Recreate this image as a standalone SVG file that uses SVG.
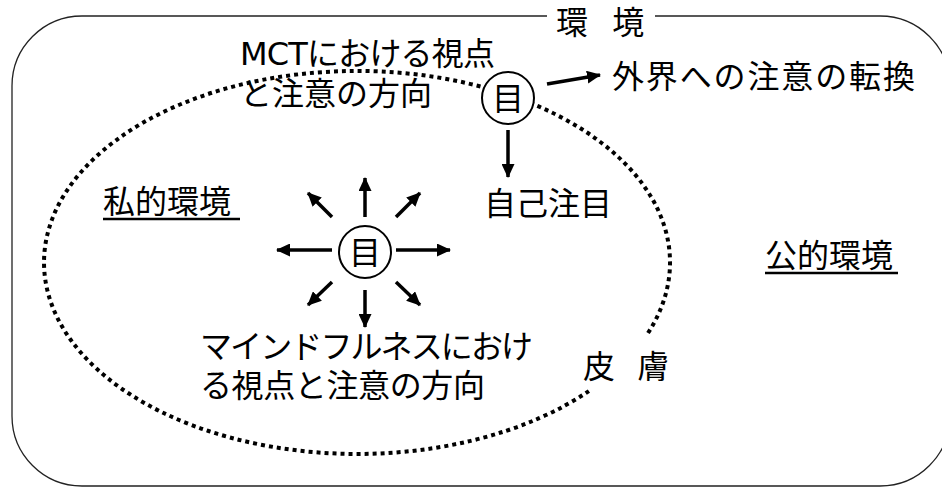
<svg xmlns="http://www.w3.org/2000/svg" width="942" height="487" viewBox="0 0 942 487">
<style>
.t{font-family:"DejaVu Sans","Noto Sans CJK JP",sans-serif;font-size:32px;fill:#000}
.eye{font-family:"Noto Sans CJK JP",sans-serif;font-size:32px;fill:#000}
.arr{stroke:#000;stroke-width:3.5;fill:none;marker-end:url(#ah)}
.ul{stroke:#000;stroke-width:2.5}
</style>
<defs>
<marker id="ah" markerUnits="userSpaceOnUse" markerWidth="14" markerHeight="13" refX="13" refY="6.5" orient="auto" viewBox="0 0 14 13">
<path d="M0,0 L14,6.5 L0,13 z" fill="#000"/>
</marker>
</defs>
<rect width="942" height="487" fill="#fff"/>
<g id="environment">
<path d="M547,16 H82 A70,70 0 0 0 12,86 V416 A70,70 0 0 0 82,486 H880 A70,70 0 0 0 950,416 V86 A70,70 0 0 0 880,16 H655" fill="none" stroke="#222" stroke-width="1.3"/>
<text class="t" x="556" y="34" xml:space="preserve" word-spacing="14">環 境</text>
</g>
<g id="skin">
<path d="M648,333 A313,191.5 0 1 0 589.6,390.6" fill="none" stroke="#000" stroke-width="4" stroke-dasharray="4 4"/>
<text class="t" x="583" y="378" xml:space="preserve" word-spacing="12">皮 膚</text>
</g>
<g id="private-env">
<text class="t" x="103" y="213">私的環境</text>
<line class="ul" x1="103" y1="219" x2="240" y2="219"/>
</g>
<g id="public-env">
<text class="t" x="765" y="267">公的環境</text>
<line class="ul" x1="765" y1="273" x2="898" y2="273"/>
</g>
<g id="mct-label">
<text class="t" x="240" y="65" textLength="255" lengthAdjust="spacing">MCTにおける視点</text>
<text class="t" x="240" y="105">と注意の方向</text>
</g>
<g id="mindfulness-label">
<text class="t" x="200" y="358" textLength="333" lengthAdjust="spacing">マインドフルネスにおけ</text>
<text class="t" x="200" y="397" textLength="285" lengthAdjust="spacing">る視点と注意の方向</text>
</g>
<g id="outer-shift">
<text class="t" x="612" y="88" textLength="303" lengthAdjust="spacing">外界への注意の転換</text>
</g>
<g id="self-focus">
<text class="t" x="484" y="215">自己注目</text>
</g>
<g id="connectors">
<line class="arr" x1="547" y1="84" x2="600" y2="75"/>
<line class="arr" x1="508" y1="130" x2="508" y2="177"/>
<line class="arr" x1="365" y1="217" x2="365" y2="178"/>
<line class="arr" x1="365" y1="290" x2="365" y2="327"/>
<line class="arr" x1="332" y1="250" x2="277" y2="250"/>
<line class="arr" x1="396" y1="250" x2="450" y2="250"/>
<line class="arr" x1="332" y1="217" x2="308" y2="193"/>
<line class="arr" x1="396" y1="217" x2="420" y2="193"/>
<line class="arr" x1="332" y1="282" x2="308" y2="305"/>
<line class="arr" x1="396" y1="282" x2="420" y2="305"/>
</g>
<g id="eye-mct">
<circle cx="508" cy="98" r="26" fill="#fff" stroke="#000" stroke-width="2"/>
<text class="eye" x="508" y="110" text-anchor="middle">目</text>
</g>
<g id="eye-mindfulness">
<circle cx="365" cy="252" r="26" fill="#fff" stroke="#000" stroke-width="2"/>
<text class="eye" x="365" y="264" text-anchor="middle">目</text>
</g>
</svg>
